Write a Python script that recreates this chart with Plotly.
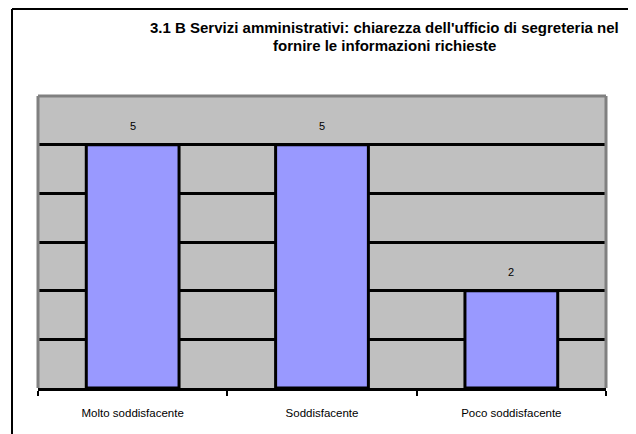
import plotly.graph_objects as go

categories = ["Molto soddisfacente", "Soddisfacente", "Poco soddisfacente"]
values = [5, 5, 2]
title_lines = ["3.1 B Servizi amministrativi: chiarezza dell'ufficio di segreteria nel",
               "fornire le informazioni richieste"]

# page body has an 8px margin; positions below are in screen pixels
OFF = 8
W, H = 636, 434
L, R, T, B = 38 - OFF, 636 - 606 + OFF, 96 - OFF, 434 - 388 + OFF
pw, ph = W - L - R, H - T - B

def px_x(x):
    return (x - OFF - L) / pw

def px_y(y):
    return (H - B - (y - OFF)) / ph

FONT = "Liberation Sans, Arial, sans-serif"

fig = go.Figure()
fig.add_trace(go.Bar(
    x=categories, y=values, width=0.49,
    marker=dict(color="#9999FF", line=dict(color="black", width=3)),
    hoverinfo="skip",
))

for c, v in zip(categories, values):
    fig.add_annotation(x=c, y=v, text=str(v), showarrow=False, yshift=19,
                       font=dict(family=FONT, size=11, color="black"))

for i, line in enumerate(title_lines):
    fig.add_annotation(xref="paper", yref="paper", x=px_x(384.5), y=px_y(28 + 18 * i),
                       xanchor="center", yanchor="middle", align="center",
                       text="<b>" + line + "</b>", showarrow=False,
                       font=dict(family=FONT, size=15, color="black"))

# plot area gray border (left, top, right)
g = dict(color="#808080", width=3)
fig.add_shape(type="line", xref="paper", yref="paper", x0=0, x1=0, y0=0, y1=1, line=g)
fig.add_shape(type="line", xref="paper", yref="paper", x0=0, x1=1, y0=1, y1=1, line=g)
fig.add_shape(type="line", xref="paper", yref="paper", x0=1, x1=1, y0=0, y1=1, line=g)

# outer chart border
o = dict(color="black", width=2)
fig.add_shape(type="line", xref="paper", yref="paper", x0=px_x(12), x1=px_x(12), y0=px_y(9), y1=px_y(460), line=o)
fig.add_shape(type="line", xref="paper", yref="paper", x0=px_x(12), x1=px_x(633), y0=px_y(9), y1=px_y(9), line=o)
fig.add_shape(type="line", xref="paper", yref="paper", x0=px_x(633), x1=px_x(633), y0=px_y(9), y1=px_y(460), line=o)

fig.update_layout(
    width=W, height=H,
    margin=dict(l=L, r=R, t=T, b=B),
    paper_bgcolor="white", plot_bgcolor="#C0C0C0",
    showlegend=False,
    font=dict(family=FONT, size=11, color="black"),
    xaxis=dict(type="category", showline=True, linecolor="black", linewidth=3,
               ticks="outside", tickson="boundaries", ticklen=5, tickwidth=2,
               tickcolor="black", showgrid=False, zeroline=False,
               ticklabelstandoff=12,
               tickfont=dict(family=FONT, size=11.5, color="black"),
               fixedrange=True),
    yaxis=dict(range=[0, 6], tickvals=[1, 2, 3, 4, 5], showticklabels=False,
               showgrid=True, gridcolor="black", gridwidth=3, zeroline=False,
               showline=False, ticks="", fixedrange=True),
)

fig.write_html("out.html")
